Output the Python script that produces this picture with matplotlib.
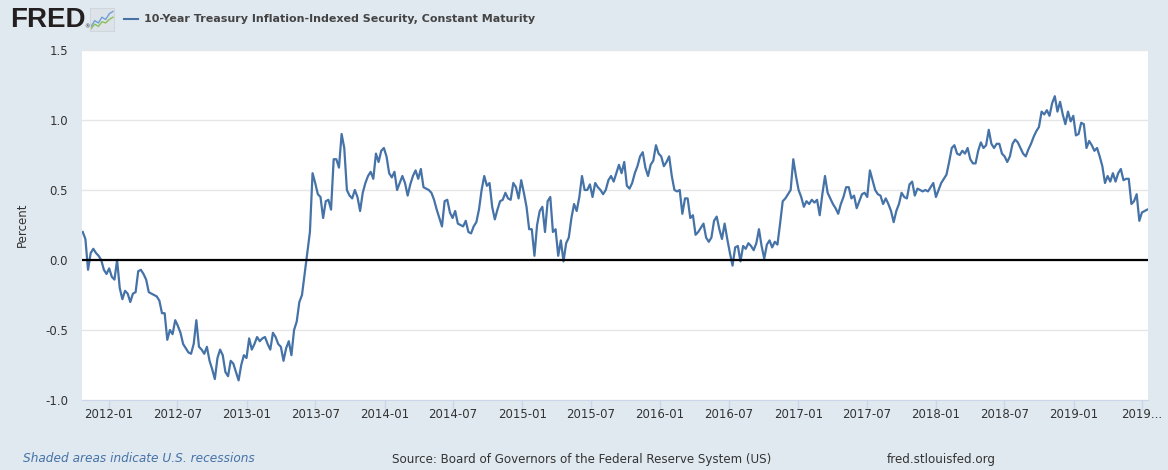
import matplotlib
matplotlib.use("Agg")
from matplotlib import pyplot as plt
from matplotlib.lines import Line2D
import numpy as np
import pandas as pd

# weekly readings of DFII10, percent, starting 2011-10-24
tips_2011_2013 = [
    0.2, 0.15, -0.07, 0.05, 0.08, 0.05, 0.03, 0.0, -0.07, -0.1,
    -0.06, -0.12, -0.14, 0.0, -0.2, -0.28, -0.22, -0.24, -0.3, -0.24,
    -0.23, -0.08, -0.07, -0.1, -0.14, -0.23, -0.24, -0.25, -0.26, -0.29,
    -0.38, -0.38, -0.57, -0.5, -0.53, -0.43, -0.47, -0.52, -0.6, -0.63,
    -0.66, -0.67, -0.6, -0.43, -0.62, -0.64, -0.67, -0.62, -0.72, -0.78,
    -0.85, -0.7, -0.64, -0.68, -0.8, -0.83, -0.72, -0.74, -0.8, -0.86,
    -0.75, -0.68, -0.7, -0.56, -0.64, -0.6, -0.55, -0.58, -0.56, -0.55,
    -0.6, -0.64, -0.52, -0.55, -0.6, -0.62, -0.72, -0.63, -0.58, -0.68,
    -0.5, -0.44, -0.3,
]
tips_2013_2014 = [
    -0.25, -0.1, 0.05, 0.2, 0.62, 0.55, 0.47, 0.45, 0.3, 0.42,
    0.43, 0.36, 0.72, 0.72, 0.66, 0.9, 0.8, 0.5, 0.46, 0.44,
    0.5, 0.45, 0.35, 0.48, 0.55, 0.6, 0.63, 0.58, 0.76, 0.7,
    0.78, 0.8, 0.74, 0.62, 0.59, 0.63, 0.5, 0.55, 0.6, 0.55,
    0.46, 0.54, 0.6, 0.64, 0.58, 0.65, 0.52, 0.51, 0.5, 0.48,
    0.43, 0.36, 0.3, 0.24, 0.42, 0.43, 0.34, 0.3, 0.35, 0.26,
    0.25, 0.24, 0.28, 0.2, 0.19, 0.24, 0.27, 0.36, 0.5, 0.6,
    0.53, 0.55, 0.38, 0.29, 0.36, 0.42, 0.43, 0.48, 0.44, 0.43,
    0.55,
]
tips_2015_2016 = [
    0.52, 0.44, 0.57, 0.48, 0.38, 0.22, 0.22, 0.03, 0.25, 0.35,
    0.38, 0.2, 0.42, 0.45, 0.2, 0.22, 0.03, 0.14, -0.01, 0.12,
    0.16, 0.3, 0.4, 0.35, 0.45, 0.6, 0.5, 0.5, 0.54, 0.45,
    0.55, 0.52, 0.5, 0.47, 0.5, 0.57, 0.6, 0.56, 0.62, 0.68,
    0.62, 0.7, 0.53, 0.51, 0.55, 0.62, 0.67, 0.74, 0.77, 0.66,
    0.6, 0.68, 0.71, 0.82, 0.76, 0.74, 0.67, 0.7, 0.74, 0.6,
    0.5, 0.49, 0.5, 0.33, 0.44, 0.44, 0.3, 0.32, 0.18, 0.2,
    0.23, 0.26, 0.16, 0.13, 0.16, 0.28, 0.31, 0.22, 0.15, 0.26,
    0.15, 0.05,
]
tips_2016_2018 = [
    -0.04, 0.09, 0.1, -0.01, 0.1, 0.08, 0.12, 0.1, 0.07, 0.12,
    0.22, 0.1, 0.01, 0.11, 0.14, 0.09, 0.13, 0.11, 0.26, 0.42,
    0.44, 0.47, 0.5, 0.72, 0.6, 0.5, 0.45, 0.38, 0.42, 0.4,
    0.43, 0.41, 0.43, 0.32, 0.47, 0.6, 0.48, 0.44, 0.4, 0.37,
    0.33, 0.4, 0.45, 0.52, 0.52, 0.44, 0.46, 0.37, 0.42, 0.47,
    0.48, 0.45, 0.64, 0.57, 0.5, 0.47, 0.46, 0.4, 0.44, 0.4,
    0.35, 0.27, 0.35, 0.4, 0.48, 0.45, 0.44, 0.54, 0.56, 0.46,
    0.51, 0.5, 0.49, 0.5, 0.49, 0.52, 0.55, 0.45, 0.5, 0.55,
    0.58,
]
tips_2018_2019 = [
    0.61, 0.7, 0.8, 0.82, 0.76, 0.75, 0.78, 0.76, 0.8, 0.72,
    0.69, 0.69, 0.78, 0.84, 0.8, 0.82, 0.93, 0.83, 0.8, 0.83,
    0.83, 0.76, 0.74, 0.7, 0.74, 0.83, 0.86, 0.84, 0.8, 0.76,
    0.74, 0.79, 0.83, 0.88, 0.92, 0.95, 1.06, 1.04, 1.07, 1.03,
    1.12, 1.17, 1.06, 1.13, 1.04, 0.97, 1.06, 0.99, 1.03, 0.89,
    0.9, 0.98, 0.97, 0.8, 0.85, 0.82, 0.78, 0.8, 0.74, 0.67,
    0.55, 0.6, 0.56, 0.62, 0.56, 0.62, 0.65, 0.57, 0.58, 0.58,
    0.4, 0.42, 0.47, 0.28, 0.34, 0.35, 0.36,
]

start_date = "2011-10-24"
x_range = ("2011-10-22", "2019-07-17")
y_ticks = [-1.0, -0.5, 0.0, 0.5, 1.0, 1.5]
x_tick_dates = ["2012-01", "2012-07", "2013-01", "2013-07", "2014-01", "2014-07",
                "2015-01", "2015-07", "2016-01", "2016-07", "2017-01", "2017-07",
                "2018-01", "2018-07", "2019-01", "2019-07"]
x_tick_labels = x_tick_dates[:-1] + ["2019..."]

# little FRED graph icon
icon_blue = [0.2, 0.45, 0.35, 0.6, 0.5, 0.75, 0.85]
icon_green = [0.1, 0.3, 0.2, 0.4, 0.35, 0.5, 0.6]

values = np.array(tips_2011_2013 + tips_2013_2014 + tips_2015_2016
                  + tips_2016_2018 + tips_2018_2019)
dates = pd.date_range(start_date, periods=len(values), freq="7D")

W, H = 1168, 470
bg = "#e1e9f0"
line_col = "#4572a7"
txt = "#333333"

def fx(x):
    return x / W

def fy(y):
    return 1 - y / H

fig = plt.figure(figsize=(W / 100, H / 100), dpi=100, facecolor=bg)
ax = fig.add_axes([fx(82), fy(400), fx(1148) - fx(82), fy(50) - fy(400)])
ax.set_facecolor("white")

ax.plot(dates, values, color=line_col, linewidth=1.6, zorder=3)
ax.axhline(0, color="black", linewidth=1.6, zorder=4)

ax.set_xlim(pd.Timestamp(x_range[0]), pd.Timestamp(x_range[1]))
ax.set_ylim(-1.0, 1.5)
ax.set_yticks(y_ticks)
ax.set_yticklabels([f"{v:.1f}" for v in y_ticks])
ax.grid(axis="y", color="#e6e6e6", linewidth=1)
ax.set_axisbelow(True)

ax.set_xticks([pd.Timestamp(d) for d in x_tick_dates])
ax.set_xticklabels(x_tick_labels)

for s in ["top", "right", "left"]:
    ax.spines[s].set_visible(False)
ax.spines["bottom"].set_color("#ccd6eb")
ax.tick_params(axis="x", colors="#ccd6eb", length=7.5, width=1, labelcolor=txt,
               labelsize=8.5, pad=-1.5)
ax.tick_params(axis="y", length=0, labelcolor=txt, labelsize=8.5, pad=10)
ax.set_ylabel("Percent", color=txt, fontsize=8.5, labelpad=12)

# header
fig.text(fx(10), fy(20), "FRED", fontsize=20, fontweight="bold",
         family="Liberation Sans", color="#231f20", va="center", ha="left")
fig.text(fx(84), fy(27), "®", fontsize=4, color="#231f20", va="center")
icon = fig.add_axes([fx(90), fy(31), fx(24), fy(8) - fy(31)])
icon.set_facecolor("#dde3e8")
icon.plot(icon_blue, color="#6f9fd8", linewidth=1)
icon.plot(icon_green, color="#8bbf5a", linewidth=1)
icon.set_xticks([])
icon.set_yticks([])
icon.set_ylim(0, 1)
for s in icon.spines.values():
    s.set_color("#cfd6dc")
fig.add_artist(Line2D([fx(124), fx(138)], [fy(19), fy(19)], color=line_col,
                      linewidth=1.5))
fig.text(fx(144), fy(19), "10-Year Treasury Inflation-Indexed Security, Constant Maturity",
         fontsize=8.0, fontweight="bold", color="#444444",
         va="center", ha="left")

# footer
fig.text(fx(23), fy(459), "Shaded areas indicate U.S. recessions", fontsize=8.7,
         style="italic", color="#4572a7", va="center", ha="left")
fig.text(fx(392), fy(459), "Source: Board of Governors of the Federal Reserve System (US)",
         fontsize=8.6, color=txt, va="center", ha="left")
fig.text(fx(887), fy(459), "fred.stlouisfed.org", fontsize=8.6, color=txt,
         va="center", ha="left")

fig.savefig("out.png", dpi=100, facecolor=bg)
